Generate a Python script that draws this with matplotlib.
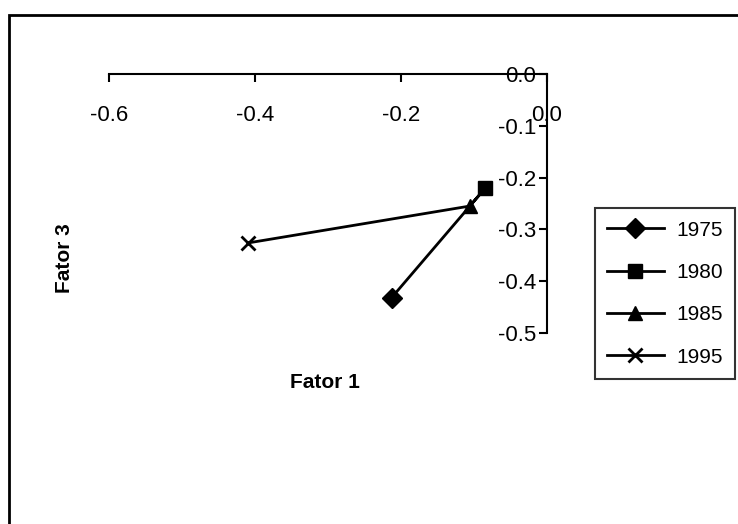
import matplotlib.pyplot as plt
from matplotlib.lines import Line2D
from matplotlib.patches import Rectangle

# dados
anos = ['1975', '1980', '1985', '1995']
fator1 = [-0.213, -0.085, -0.106, -0.409]
fator3 = [-0.432, -0.221, -0.255, -0.326]
marcadores = ['D', 's', '^', 'x']

xticks = [-0.6, -0.4, -0.2, 0.0]
yticks = [0.0, -0.1, -0.2, -0.3, -0.4, -0.5]

narrow = ['Liberation Sans Narrow', 'Liberation Sans', 'DejaVu Sans']
bold = ['Liberation Sans', 'DejaVu Sans']

fig = plt.figure(figsize=(7.38, 5.24), dpi=100)
ax = fig.add_axes([0.1477, 0.3645, 0.5935, 0.4943])

# linha única ligando os anos
ax.plot(fator1, fator3, color='black', lw=2, zorder=2)
for x, y, m in zip(fator1, fator3, marcadores):
    ax.plot([x], [y], marker=m, color='black', ms=10, mew=2 if m == 'x' else 1,
            ls='none', zorder=3)

ax.set_xlim(-0.6, 0.0)
ax.set_ylim(-0.5, 0.0)
ax.spines['bottom'].set_position(('data', 0))
ax.spines['left'].set_position(('data', 0))
ax.spines['top'].set_visible(False)
ax.spines['right'].set_visible(False)
for s in ('bottom', 'left'):
    ax.spines[s].set_linewidth(1.5)
ax.set_xticks(xticks)
ax.set_yticks(yticks)
ax.set_xticklabels([f'{v:.1f}' for v in xticks])
ax.set_yticklabels([f'{v:.1f}' for v in yticks])
ax.tick_params(axis='both', direction='out', length=6, width=1.5, labelsize=16)
ax.tick_params(axis='x', pad=16)
ax.tick_params(axis='y', pad=2)
for lab in ax.get_xticklabels() + ax.get_yticklabels():
    lab.set_family(narrow)
ax.patch.set_alpha(0)

fig.text(0.44, 0.27, 'Fator 1', fontsize=15, fontweight='bold', family=bold,
         ha='center', va='center')
fig.text(0.087, 0.507, 'Fator 3', fontsize=15, fontweight='bold', family=bold,
         ha='center', va='center', rotation=90)

handles = [Line2D([], [], color='black', lw=2, marker=m, ms=10,
                  mew=2 if m == 'x' else 1) for m in marcadores]
leg = fig.legend(handles, anos, loc='upper left', bbox_to_anchor=(0.806, 0.603),
                 borderaxespad=0, frameon=True, fancybox=False, handlelength=2.7,
                 labelspacing=1.12, borderpad=0.6, handletextpad=0.6,
                 prop={'family': narrow, 'size': 15})
leg.get_frame().set_edgecolor('black')
leg.get_frame().set_linewidth(1.5)

# moldura externa da figura
fig.patches.append(Rectangle((0.012, -0.01), 1.0, 0.982, transform=fig.transFigure,
                             fill=False, edgecolor='black', lw=2))

fig.savefig('out.png', dpi=100)
